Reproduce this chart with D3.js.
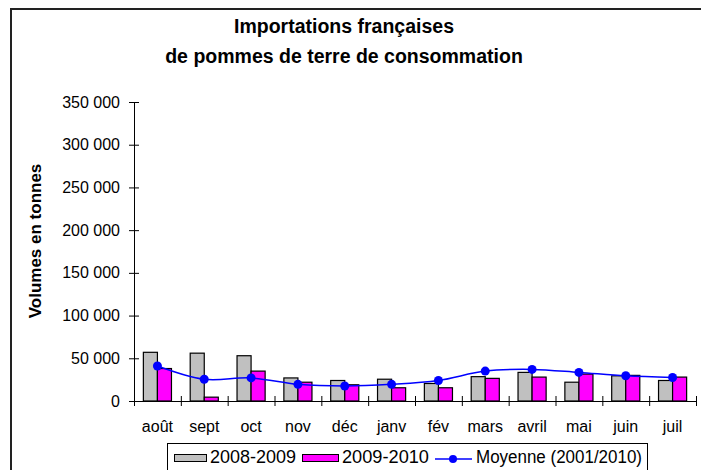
<!DOCTYPE html>
<html>
<head>
<meta charset="utf-8">
<script src="https://cdn.jsdelivr.net/npm/d3@7"></script>
<style>
  body { margin: 0; background: #fff; }
  svg { display: block; font-family: Arial, "Liberation Sans", sans-serif; }
  .axis path, .axis line { stroke: #000; }
</style>
</head>
<body>
<div id="plot"></div>
<script>
var months = ['août', 'sept', 'oct', 'nov', 'déc', 'janv', 'fév', 'mars', 'avril', 'mai', 'juin', 'juil']
var serie2008 = [57000, 56000, 53000, 27000, 24000, 25500, 20500, 28500, 33500, 22000, 29500, 24000]
var serie2009 = [38000, 4500, 35000, 22000, 19000, 15500, 15500, 26500, 28000, 31500, 30000, 28000]
var moyenne = [41000, 25500, 27000, 19500, 17500, 19500, 24000, 35000, 37000, 33500, 29500, 27500]
var yTicks = [0, 50000, 100000, 150000, 200000, 250000, 300000, 350000]
var seriesNames = ['2008-2009', '2009-2010', 'Moyenne (2001/2010)']

var width = 701
var height = 470
var margin = { top: 102, left: 134, right: 5, bottom: 69 }
var plotW = width - margin.left - margin.right
var plotH = height - margin.top - margin.bottom

var fr = d3.formatLocale({ decimal: ',', thousands: ' ', grouping: [3], currency: ['', ' €'] })
var fmt = fr.format(',d')

var svg = d3
  .select('#plot')
  .append('svg')
  .attr('width', width)
  .attr('height', height)

svg.append('rect').attr('width', width).attr('height', height).attr('fill', '#fff')

// outer frame
svg
  .append('rect')
  .attr('x', 11)
  .attr('y', 9)
  .attr('width', 720)
  .attr('height', 500)
  .attr('fill', 'none')
  .attr('stroke', '#222')
  .attr('stroke-width', 2)

// title
var title = svg
  .append('text')
  .attr('text-anchor', 'middle')
  .style('font-weight', 'bold')
  .style('font-size', '19.5px')
title.append('tspan').attr('x', 344).attr('y', 33).text('Importations françaises')
title.append('tspan').attr('x', 344).attr('y', 63).text('de pommes de terre de consommation')

var g = svg
  .append('g')
  .attr('transform', 'translate(' + margin.left + ',' + margin.top + ')')

var xScale = d3
  .scaleBand()
  .domain(months)
  .range([0, plotW])
  .paddingInner(0.4)
  .paddingOuter(0.2)

var xSub = d3
  .scaleBand()
  .domain([0, 1])
  .range([0, xScale.bandwidth()])

var xEdges = d3.scaleLinear().domain([0, months.length]).range([0, plotW])

var yScale = d3.scaleLinear().domain([0, 350000]).range([plotH, 0])

// y axis
var yAxisG = g
  .append('g')
  .attr('class', 'axis')
  .call(
    d3
      .axisLeft(yScale)
      .tickValues(yTicks)
      .tickFormat(fmt)
      .tickSizeInner(5)
      .tickSizeOuter(0)
      .tickPadding(9)
  )
yAxisG.selectAll('.tick line').attr('x1', -5).attr('x2', 5)
yAxisG.selectAll('text').style('font-size', '16px').style('fill', '#000')

// bars
var groups = g
  .selectAll('.grp')
  .data(months)
  .enter()
  .append('g')
  .attr('class', 'grp')
  .attr('transform', function(d) {
    return 'translate(' + xScale(d) + ',0)'
  })

groups
  .append('rect')
  .attr('x', xSub(0))
  .attr('width', xSub.bandwidth())
  .attr('y', function(d, i) {
    return yScale(serie2008[i])
  })
  .attr('height', function(d, i) {
    return plotH - yScale(serie2008[i])
  })
  .attr('fill', '#c0c0c0')
  .attr('stroke', '#000')
  .attr('stroke-width', 1.2)

groups
  .append('rect')
  .attr('x', xSub(1))
  .attr('width', xSub.bandwidth())
  .attr('y', function(d, i) {
    return yScale(serie2009[i])
  })
  .attr('height', function(d, i) {
    return plotH - yScale(serie2009[i])
  })
  .attr('fill', '#ff00ff')
  .attr('stroke', '#000')
  .attr('stroke-width', 1.2)

// x axis: edges ticks + labels
var xAxisG = g
  .append('g')
  .attr('class', 'axis')
  .attr('transform', 'translate(0,' + plotH + ')')
  .call(
    d3
      .axisBottom(xEdges)
      .tickValues(d3.range(months.length + 1))
      .tickFormat('')
      .tickSizeInner(5)
      .tickSizeOuter(0)
  )
xAxisG.selectAll('.tick line').attr('y1', -5).attr('y2', 5)

var xLabels = g
  .append('g')
  .attr('transform', 'translate(0,' + plotH + ')')
  .call(d3.axisBottom(xScale).tickSize(0).tickPadding(20))
xLabels.select('.domain').remove()
xLabels.selectAll('text').style('font-size', '16px').style('fill', '#000')

// moyenne line
var plotLine = d3
  .line()
  .curve(d3.curveCatmullRom)
  .x(function(d, i) {
    return xScale(months[i]) + xScale.bandwidth() / 2
  })
  .y(function(d) {
    return yScale(d)
  })

g.append('path')
  .datum(moyenne)
  .attr('d', plotLine)
  .style('fill', 'none')
  .style('stroke', '#0000ff')
  .style('stroke-width', 1.5)

g.selectAll('.dot')
  .data(moyenne)
  .enter()
  .append('circle')
  .attr('class', 'dot')
  .attr('cx', function(d, i) {
    return xScale(months[i]) + xScale.bandwidth() / 2
  })
  .attr('cy', function(d) {
    return yScale(d)
  })
  .attr('r', 4.5)
  .attr('fill', '#0000ff')

// y title
svg
  .append('text')
  .attr('transform', 'translate(41,241) rotate(-90)')
  .attr('text-anchor', 'middle')
  .style('font-weight', 'bold')
  .style('font-size', '17px')
  .text('Volumes en tonnes')

// legend
var legend = svg.append('g')
legend
  .append('rect')
  .attr('x', 167.5)
  .attr('y', 443.5)
  .attr('width', 480)
  .attr('height', 40)
  .attr('fill', '#fff')
  .attr('stroke', '#000')
  .attr('stroke-width', 1)

var swatchFill = ['#c0c0c0', '#ff00ff']
var swatchX = [174, 302]
var swatchW = [32, 36]
var textLen = [86, 87]
swatchX.forEach(function(x, i) {
  legend
    .append('rect')
    .attr('x', x + 0.5)
    .attr('y', 454.5)
    .attr('width', swatchW[i])
    .attr('height', 7)
    .attr('fill', swatchFill[i])
    .attr('stroke', '#000')
    .attr('stroke-width', 1)
  legend
    .append('text')
    .attr('x', x + swatchW[i] + 4)
    .attr('y', 463)
    .attr('textLength', textLen[i])
    .attr('lengthAdjust', 'spacingAndGlyphs')
    .style('font-size', '17.5px')
    .text(seriesNames[i])
})

legend
  .append('line')
  .attr('x1', 435)
  .attr('x2', 472)
  .attr('y1', 459)
  .attr('y2', 459)
  .style('stroke', '#0000ff')
  .style('stroke-width', 1.5)
legend
  .append('circle')
  .attr('cx', 453)
  .attr('cy', 459)
  .attr('r', 4)
  .attr('fill', '#0000ff')
legend
  .append('text')
  .attr('x', 476)
  .attr('y', 463)
  .attr('textLength', 166)
  .attr('lengthAdjust', 'spacingAndGlyphs')
  .style('font-size', '17.5px')
  .text(seriesNames[2])
</script>
</body>
</html>
